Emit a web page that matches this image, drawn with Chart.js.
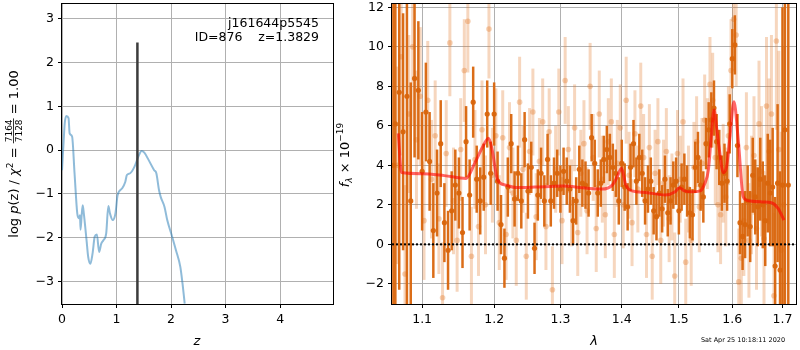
<!DOCTYPE html>
<html>
<head>
<meta charset="utf-8">
<script src="https://cdn.jsdelivr.net/npm/chart.js@4.4.1/dist/chart.umd.min.js"></script>
<style>
  html, body { margin: 0; padding: 0; background: #fff; }
  #wrap { position: relative; width: 800px; height: 350px; }
  #pz { position: absolute; left: 0; top: 0; }
  #sp { position: absolute; left: 330px; top: 0; }
</style>
</head>
<body>
<div id="wrap">
  <canvas id="pz" width="340" height="350"></canvas>
  <canvas id="sp" width="470" height="350"></canvas>
</div>
<script>
// left panel: log p(z)
const zGrid = [0, 0.03, 0.05, 0.08, 0.12, 0.14, 0.185, 0.23, 0.28, 0.31,
  0.33, 0.34, 0.36, 0.38, 0.40, 0.45, 0.48, 0.52, 0.56, 0.60,
  0.64, 0.68, 0.72, 0.76, 0.81, 0.85, 0.88, 0.93, 0.98, 1.02,
  1.10, 1.16, 1.19, 1.25, 1.33, 1.40, 1.46, 1.51, 1.59, 1.69,
  1.73, 1.78, 1.81, 1.88, 1.93, 2.02, 2.09, 2.17, 2.21, 2.25];
const logpz = [-0.46, 0.2, 0.61, 0.78, 0.73, 0.38, 0.31, -0.53, -1.45, -1.56,
  -1.49, -1.82, -1.5, -1.26, -1.45, -2.06, -2.44, -2.6, -2.37, -1.98,
  -1.93, -2.33, -2.14, -2.06, -1.91, -1.28, -1.45, -1.6, -1.45, -1.03,
  -0.88, -0.73, -0.57, -0.53, -0.38, -0.15, -0.02, -0.06, -0.23, -0.46,
  -0.53, -0.92, -1.07, -1.3, -1.6, -1.98, -2.29, -2.67, -3.05, -3.51];
const zBest = 1.3829;
const zBestTop = 2.46;
const zTicks = [0, 1, 2, 3, 4];
const pzTicks = [-3, -2, -1, 0, 1, 2, 3];

// right panel: spectrum, dark beam (A) and faint beam (B)
const waveA = [1.0625, 1.065, 1.070, 1.075, 1.080, 1.085, 1.090, 1.095, 1.100, 1.105,
  1.110, 1.115, 1.120, 1.125, 1.130, 1.135, 1.140, 1.145, 1.150, 1.155,
  1.160, 1.165, 1.170, 1.175, 1.180, 1.185, 1.190, 1.195, 1.200, 1.205,
  1.210, 1.215, 1.220, 1.225, 1.230, 1.235, 1.240, 1.245, 1.250, 1.255,
  1.260, 1.265, 1.270, 1.275, 1.280, 1.285, 1.290, 1.295, 1.300, 1.305,
  1.310, 1.315, 1.320, 1.325, 1.330, 1.335, 1.340, 1.345, 1.350, 1.355,
  1.360, 1.365, 1.370, 1.375, 1.380, 1.385, 1.390, 1.395, 1.400, 1.405,
  1.410, 1.415, 1.420, 1.425, 1.430, 1.435, 1.440, 1.445, 1.450, 1.455,
  1.460, 1.465, 1.470, 1.475, 1.480, 1.485, 1.490, 1.495, 1.500, 1.505,
  1.510, 1.515, 1.520, 1.525, 1.530, 1.535, 1.540, 1.545, 1.550, 1.555,
  1.560, 1.565, 1.570, 1.575, 1.580, 1.585, 1.590, 1.595, 1.600, 1.605,
  1.610, 1.615, 1.620, 1.625, 1.630, 1.635, 1.640, 1.645, 1.650, 1.655,
  1.660, 1.665, 1.670, 1.675, 1.680, 1.685, 1.690, 1.695, 1.700, 1.705,
  1.712];
const fluxA = [4.0, 6.1, 7.7, 5.7, 7.5, 2.2, 8.4, 7.8, 3.7, 6.7,
  4.2, 0.7, 2.6, 5.1, 1.1, -0.3, 1.7, 3.0, 2.6, 0.6,
  5.2, 2.5, 7.2, 3.3, 2.2, 3.4, 6.6, 3.6, 6.6, 3.2,
  1.0, -0.7, 2.9, 5.1, 2.3, 3.6, 2.2, 5.3, 2.7, 3.9,
  -0.2, 2.5, 3.6, 2.2, 4.3, 2.2, 3.1, 3.6, 2.8, 3.7,
  3.2, 2.8, 1.2, 2.2, 3.8, 3.1, 3.0, 2.6, 5.4, 4.1,
  2.6, 3.1, 4.3, 4.8, 4.4, 3.9, 3.6, 2.2, 4.1, 2.9,
  1.9, 3.9, 5.1, 3.2, 4.4, 3.6, 2.2, 2.8, 3.2, 1.7,
  1.4, 2.6, 1.8, 3.3, 1.6, 2.2, 3.0, 3.2, 1.7, 2.9,
  3.3, 2.7, 1.6, 1.5, 3.9, 4.4, 3.0, 2.4, 5.1, 5.8,
  6.3, 6.9, 5.2, 4.4, 3.1, 3.6, 3.2, 6.1, 9.4, 10.1,
  5.0, 1.1, 0.4, 1.0, 2.2, 0.9, 3.5, 2.4, 1.9, 3.3,
  2.0, 1.2, 3.1, 2.6, 2.9, -1.1, 3.1, -1.3, 3.0, 5.8,
  3.0];
const errA = [15, 12, 10, 6, 11, 6, 4, 3.5, 3, 2.5,
  2.5, 2.4, 2.2, 2.2, 2, 2, 2, 1.8, 1.8, 1.8,
  1.8, 1.8, 1.8, 1.7, 1.7, 1.7, 1.7, 1.6, 1.6, 1.5,
  1.5, 1.5, 1.5, 1.5, 1.4, 1.4, 1.4, 1.4, 1.4, 1.3,
  1.3, 1.3, 1.3, 1.3, 1.3, 1.3, 1.3, 1.2, 1.2, 1.2,
  1.2, 1.2, 1.2, 1.2, 1.2, 1.2, 1.2, 1.2, 1.2, 1.2,
  1.2, 1.2, 1.2, 1.2, 1.2, 1.2, 1.2, 1.2, 1.2, 1.2,
  1.2, 1.2, 1.2, 1.2, 1.2, 1.2, 1.2, 1.2, 1.2, 1.2,
  1.2, 1.2, 1.2, 1.2, 1.2, 1.2, 1.2, 1.2, 1.2, 1.2,
  1.3, 1.3, 1.3, 1.3, 1.3, 1.3, 1.3, 1.3, 1.3, 1.4,
  1.4, 1.4, 1.4, 1.4, 1.4, 1.5, 1.5, 1.5, 1.5, 1.5,
  1.6, 1.6, 1.7, 1.7, 1.8, 1.8, 1.9, 1.9, 2.0, 2.1,
  2.2, 2.3, 2.5, 2.7, 3, 3.5, 4, 5, 9, 12,
  15];

const waveB = [1.0675, 1.0725, 1.0775, 1.0825, 1.0875, 1.0925, 1.0975, 1.1025, 1.1075, 1.1125,
  1.1175, 1.1225, 1.1275, 1.1325, 1.1375, 1.1425, 1.1475, 1.1525, 1.1575, 1.1625,
  1.1675, 1.1725, 1.1775, 1.1825, 1.1875, 1.1925, 1.1975, 1.2025, 1.2075, 1.2125,
  1.2175, 1.2225, 1.2275, 1.2325, 1.2375, 1.2425, 1.2475, 1.2525, 1.2575, 1.2625,
  1.2675, 1.2725, 1.2775, 1.2825, 1.2875, 1.2925, 1.2975, 1.3025, 1.3075, 1.3125,
  1.3175, 1.3225, 1.3275, 1.3325, 1.3375, 1.3425, 1.3475, 1.3525, 1.3575, 1.3625,
  1.3675, 1.3725, 1.3775, 1.3825, 1.3875, 1.3925, 1.3975, 1.4025, 1.4075, 1.4125,
  1.4175, 1.4225, 1.4275, 1.4325, 1.4375, 1.4425, 1.4475, 1.4525, 1.4575, 1.4625,
  1.4675, 1.4725, 1.4775, 1.4825, 1.4875, 1.4925, 1.4975, 1.5025, 1.5075, 1.5125,
  1.5175, 1.5225, 1.5275, 1.5325, 1.5375, 1.5425, 1.5475, 1.5525, 1.5575, 1.5625,
  1.5675, 1.5725, 1.5775, 1.5825, 1.5875, 1.5925, 1.5975, 1.6025, 1.6075, 1.6125,
  1.6175, 1.6225, 1.6275, 1.6325, 1.6375, 1.6425, 1.6475, 1.6525, 1.6575, 1.6625,
  1.6675, 1.6725, 1.6775, 1.6825, 1.6875, 1.6925, 1.6975, 1.7025];
const fluxB = [4.0, 9.5, -1.5, 6.6, 10.0, 5.3, 7.5, 1.2, 7.3, 3.3,
  5.5, 1.3, -2.7, 4.6, 10.2, 2.2, 0.2, 4.8, 8.8, 11.3,
  -0.6, 4.3, 0.9, 5.8, 2.0, 10.9, 3.5, 5.5, 1.1, 5.4,
  0.5, 4.9, 2.6, 0.2, 7.2, 3.8, -0.6, 4.7, 6.7, 1.4,
  4.2, 6.2, 0.9, 5.7, -2.3, 3.8, 6.7, 1.2, 8.3, 4.8,
  2.1, 5.9, 0.6, 3.6, 5.1, 1.7, 8.0, 4.4, 0.8, 6.6,
  3.3, 1.5, 5.2, 6.2, 0.5, 4.1, 5.9, 2.0, 7.3, 3.5,
  1.1, 5.6, 2.8, 7.0, 4.4, 0.5, 4.9, -0.6, 3.6, 5.2,
  0.2, 3.1, 4.7, 1.3, 2.4, -1.6, 4.6, 3.3, 6.2, -0.9,
  2.8, 0.2, 3.9, 5.2, 1.9, 4.1, 6.3, 5.1, 8.1, 7.3,
  4.4, 2.0, 1.5, 3.6, 2.4, 5.5, 8.8, 11.4, 10.6, -1.9,
  -0.7, 1.2, 4.9, 0.2, 2.5, 4.5, 0.8, 6.1, 3.7, 0.3,
  7.0, 4.7, 6.6, -2.6, 10.3, 4.8, -0.3, 2.0];
const errB = [5, 5, 4.5, 4, 4, 3.5, 3.5, 3, 3, 3,
  2.8, 2.8, 2.8, 2.7, 2.7, 2.7, 2.6, 2.6, 2.6, 2.6,
  2.5, 2.5, 2.5, 2.5, 2.5, 2.5, 2.4, 2.4, 2.4, 2.4,
  2.3, 2.3, 2.3, 2.3, 2.3, 2.2, 2.2, 2.2, 2.2, 2.2,
  2.2, 2.2, 2.2, 2.2, 2.2, 2.2, 2.2, 2.2, 2.2, 2.2,
  2.2, 2.2, 2.2, 2.2, 2.2, 2.2, 2.2, 2.2, 2.2, 2.2,
  2.2, 2.2, 2.2, 2.2, 2.2, 2.2, 2.2, 2.2, 2.2, 2.2,
  2.2, 2.2, 2.2, 2.2, 2.2, 2.2, 2.2, 2.2, 2.2, 2.2,
  2.2, 2.2, 2.2, 2.2, 2.2, 2.2, 2.2, 2.2, 2.2, 2.2,
  2.2, 2.3, 2.3, 2.3, 2.3, 2.3, 2.3, 2.3, 2.4, 2.4,
  2.4, 2.4, 2.5, 2.5, 2.5, 2.5, 2.6, 2.6, 2.6, 2.7,
  2.7, 2.8, 2.8, 2.9, 3, 3, 3.1, 3.2, 3.3, 3.4,
  3.5, 3.7, 4, 4.2, 4.5, 5, 6, 8];

// best-fit template
const modelWave = [1.0688, 1.0729, 1.100, 1.130, 1.160, 1.172, 1.183, 1.192, 1.197, 1.205,
  1.217, 1.232, 1.260, 1.303, 1.340, 1.367, 1.384, 1.392, 1.3996, 1.407,
  1.4175, 1.4405, 1.4755, 1.4933, 1.501, 1.510, 1.5235, 1.539, 1.548, 1.5544,
  1.560, 1.565, 1.570, 1.5745, 1.5827, 1.589, 1.595, 1.6032, 1.6116, 1.6213,
  1.631, 1.660, 1.6774, 1.691, 1.703];
const modelFlux = [5.62, 3.64, 3.58, 3.48, 3.34, 4.1, 4.9, 5.37, 4.8, 3.26,
  3.0, 2.88, 2.9, 2.95, 2.85, 2.8, 3.0, 3.4, 3.85, 3.0,
  2.71, 2.63, 2.5, 2.66, 2.87, 2.71, 2.66, 2.71, 3.1, 3.76,
  5.5, 6.8, 5.9, 4.94, 3.63, 3.93, 5.3, 7.22, 5.28, 2.41,
  2.21, 2.15, 2.11, 1.82, 1.23];
const lamTicks = [1.1, 1.2, 1.3, 1.4, 1.5, 1.6, 1.7];
const fluxTicks = [-2, 0, 2, 4, 6, 8, 10, 12];

const FONT = "'DejaVu Sans'";
Chart.defaults.font.family = FONT;
Chart.defaults.font.size = 12.5;
Chart.defaults.color = '#000';

const minus = v => String(v).replace('-', '\u2212');
const toXY = (xs, ys) => xs.map((x, i) => ({ x: x, y: ys[i] }));

// vertical error bars drawn just before each dataset's points
const errorBars = {
  id: 'errorBars',
  beforeDatasetDraw(chart, args) {
    const ds = chart.data.datasets[args.index];
    if (!ds.errors) return;
    const ctx = chart.ctx, a = chart.chartArea, ys = chart.scales.y;
    ctx.save();
    ctx.beginPath();
    ctx.rect(a.left, a.top, a.right - a.left, a.bottom - a.top);
    ctx.clip();
    ctx.strokeStyle = ds.errorColor;
    ctx.lineWidth = ds.errorWidth;
    args.meta.data.forEach((pt, i) => {
      const v = ds.data[i].y, e = ds.errors[i];
      ctx.beginPath();
      ctx.moveTo(pt.x, ys.getPixelForValue(v - e));
      ctx.lineTo(pt.x, ys.getPixelForValue(v + e));
      ctx.stroke();
    });
    ctx.restore();
  }
};

const frame = {
  id: 'frame',
  afterDraw(chart) {
    const a = chart.chartArea, ctx = chart.ctx;
    ctx.save();
    ctx.strokeStyle = '#000';
    ctx.lineWidth = 1;
    ctx.strokeRect(Math.round(a.left) - 0.5, Math.round(a.top) - 0.5,
      Math.round(a.right - a.left) + 1, Math.round(a.bottom - a.top) + 1);
    ctx.restore();
  }
};

function drawRich(ctx, parts, cx, cy, rotate) {
  ctx.save();
  ctx.translate(cx, cy);
  if (rotate) ctx.rotate(-Math.PI / 2);
  let total = 0;
  parts.forEach(p => {
    ctx.font = p.font;
    p.w = p.frac
      ? Math.max(ctx.measureText(p.frac[0]).width, ctx.measureText(p.frac[1]).width) + 2
      : ctx.measureText(p.text).width;
    total += p.w;
  });
  let x = -total / 2;
  ctx.fillStyle = '#000';
  ctx.textBaseline = 'alphabetic';
  parts.forEach(p => {
    ctx.font = p.font;
    if (p.frac) {
      ctx.textAlign = 'center';
      ctx.fillText(p.frac[0], x + p.w / 2, -6.5);
      ctx.fillText(p.frac[1], x + p.w / 2, 4);
      ctx.fillRect(x, -5, p.w, 0.8);
    } else {
      ctx.textAlign = 'left';
      ctx.fillText(p.text, x, p.dy || 0);
    }
    x += p.w;
  });
  ctx.restore();
}

const N = '13px ' + FONT, I = 'italic 13px ' + FONT, S = '9px ' + FONT, SI = 'italic 9px ' + FONT;

const pzText = {
  id: 'pzText',
  afterDraw(chart) {
    const ctx = chart.ctx;
    ctx.save();
    ctx.fillStyle = '#000';
    ctx.font = '12.5px ' + FONT;
    ctx.textAlign = 'right';
    ctx.textBaseline = 'alphabetic';
    ctx.fillText('j161644p5545', 319, 26.5);
    ctx.fillText('ID=876    z=1.3829', 319, 41);
    ctx.font = I;
    ctx.textAlign = 'center';
    ctx.fillText('z', 197, 345);
    ctx.restore();
    drawRich(ctx, [
      { text: 'log ', font: N }, { text: 'p', font: I }, { text: '(z) / ', font: N },
      { text: '\u03c7', font: I }, { text: '2', font: S, dy: -5.5 }, { text: ' = ', font: N },
      { frac: ['7164', '7128'], font: S }, { text: ' = 1.00', font: N }
    ], 18, 154, true);
  }
};

// right canvas starts at page x = 330
const spText = {
  id: 'spText',
  afterDraw(chart) {
    const ctx = chart.ctx;
    ctx.save();
    ctx.fillStyle = '#000';
    ctx.font = I;
    ctx.textAlign = 'center';
    ctx.fillText('\u03bb', 264, 345);
    ctx.font = '6.5px ' + FONT;
    ctx.fillText('Sat Apr 25 10:18:11 2020', 413, 342);
    ctx.restore();
    drawRich(ctx, [
      { text: 'f', font: I }, { text: '\u03bb', font: SI, dy: 3 },
      { text: ' \u00d7 10', font: N }, { text: '\u221219', font: S, dy: -5.5 }
    ], 18.5, 155, true);
  }
};

const gridOpts = { color: '#b0b0b0', lineWidth: 1, tickColor: '#000', tickLength: 4, drawTicks: true };
const fixY = w => s => { s.width = w; s.paddingTop = 0; s.paddingBottom = 0; };
const fixX = h => s => { s.height = h; s.paddingLeft = 0; s.paddingRight = 0; };

new Chart(document.getElementById('pz'), {
  type: 'line',
  data: {
    datasets: [{
      data: [{ x: zBest, y: -3.7 }, { x: zBest, y: zBestTop }],
      borderColor: '#3c3c3c', borderWidth: 2.5, pointRadius: 0, order: 1, clip: 0
    }, {
      data: toXY(zGrid, logpz),
      borderColor: 'rgba(31,119,180,0.5)', borderWidth: 2, pointRadius: 0,
      cubicInterpolationMode: 'monotone', order: 2, clip: 0
    }]
  },
  options: {
    responsive: false, animation: false,
    layout: { padding: { top: 4, right: 7, left: 0, bottom: 0 } },
    plugins: { legend: { display: false }, tooltip: { enabled: false } },
    scales: {
      x: {
        type: 'linear', min: 0, max: 4.97,
        grid: gridOpts, border: { display: false },
        afterBuildTicks: s => { s.ticks = zTicks.map(v => ({ value: v })); },
        afterFit: fixX(46),
        ticks: { padding: 4, maxRotation: 0, autoSkip: false, callback: v => minus(v) }
      },
      y: {
        type: 'linear', min: -3.52, max: 3.34,
        grid: gridOpts, border: { display: false },
        afterBuildTicks: s => { s.ticks = pzTicks.map(v => ({ value: v })); },
        afterFit: fixY(62),
        ticks: { padding: 4, autoSkip: false, callback: v => minus(v) }
      }
    }
  },
  plugins: [frame, pzText]
});

new Chart(document.getElementById('sp'), {
  type: 'line',
  data: {
    datasets: [{
      data: toXY(modelWave, modelFlux),
      borderColor: 'rgba(255,0,0,0.6)', borderWidth: 3, pointRadius: 0,
      cubicInterpolationMode: 'monotone', order: 1, clip: 0
    }, {
      data: [{ x: 1.0607, y: 0 }, { x: 1.728, y: 0 }],
      borderColor: '#000', borderWidth: 2, borderDash: [2, 2], pointRadius: 0, order: 2, clip: 0
    }, {
      data: toXY(waveA, fluxA), errors: errA,
      errorColor: 'rgba(217,101,12,0.95)', errorWidth: 2.5,
      showLine: false, pointRadius: 2.6, pointBorderWidth: 0,
      pointBackgroundColor: 'rgba(217,101,12,0.95)', order: 3, clip: 0
    }, {
      data: toXY(waveB, fluxB), errors: errB,
      errorColor: 'rgba(226,120,40,0.3)', errorWidth: 3,
      showLine: false, pointRadius: 2.8, pointBorderWidth: 0,
      pointBackgroundColor: 'rgba(226,120,40,0.35)', order: 4, clip: 0
    }]
  },
  options: {
    responsive: false, animation: false,
    layout: { padding: { top: 4, right: 1, left: 0, bottom: 0 } },
    plugins: { legend: { display: false }, tooltip: { enabled: false } },
    scales: {
      x: {
        type: 'logarithmic', min: 1.0607, max: 1.728,
        grid: gridOpts, border: { display: false },
        afterBuildTicks: s => { s.ticks = lamTicks.map(v => ({ value: v })); },
        afterFit: fixX(46),
        ticks: { padding: 4, maxRotation: 0, autoSkip: false, callback: v => Number(v).toFixed(1) }
      },
      y: {
        type: 'linear', min: -3.02, max: 12.17,
        grid: gridOpts, border: { display: false },
        afterBuildTicks: s => { s.ticks = fluxTicks.map(v => ({ value: v })); },
        afterFit: fixY(62),
        ticks: { padding: 4, autoSkip: false, callback: v => minus(v) }
      }
    }
  },
  plugins: [errorBars, frame, spText]
});
</script>
</body>
</html>
